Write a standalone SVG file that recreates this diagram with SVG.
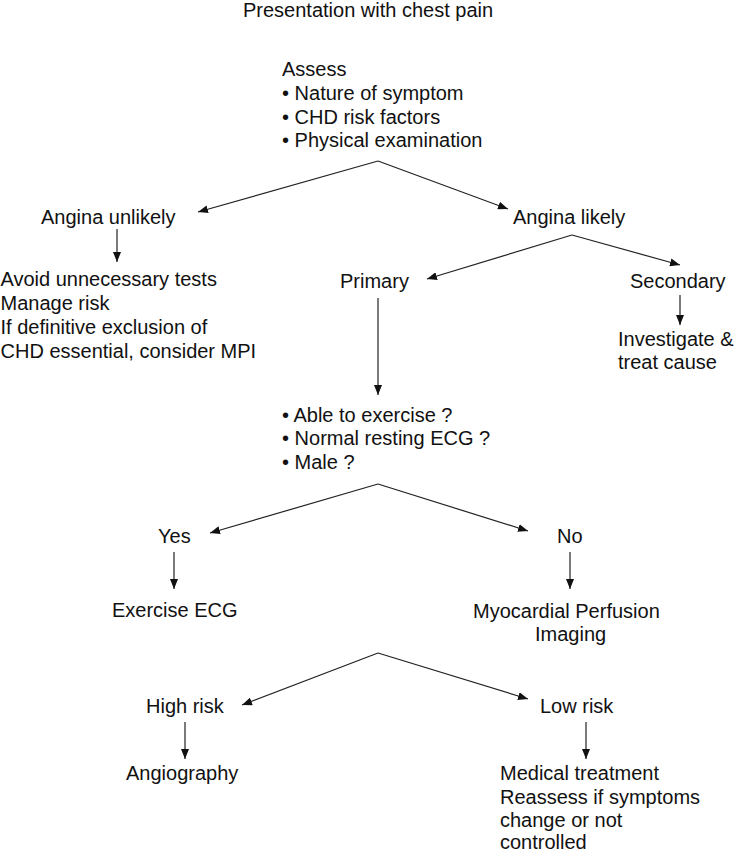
<svg xmlns="http://www.w3.org/2000/svg" width="734" height="853" viewBox="0 0 734 853">
<defs>
<marker id="ah" viewBox="0 0 10 8" refX="10" refY="4" markerWidth="10" markerHeight="8" markerUnits="userSpaceOnUse" orient="auto">
<path d="M0,0 L10,4 L0,8 Z" fill="#111"/>
</marker>
<style>
text{font-family:"Liberation Sans",Arial,Helvetica,sans-serif;font-size:20px;fill:#111}
.c line{stroke:#222;stroke-width:1.2;fill:none}
</style>
</defs>
<rect width="734" height="853" fill="#fff"/>
<g id="title"><text x="243" y="17">Presentation with chest pain</text></g>
<g id="assess">
<text x="282" y="76">Assess</text>
<text x="282" y="100">• Nature of symptom</text>
<text x="282" y="124">• CHD risk factors</text>
<text x="282" y="147">• Physical examination</text>
</g>
<g id="angina-unlikely"><text x="41" y="224">Angina unlikely</text></g>
<g id="angina-likely"><text x="513" y="224">Angina likely</text></g>
<g id="avoid">
<text x="0.5" y="286">Avoid unnecessary tests</text>
<text x="0.5" y="310">Manage risk</text>
<text x="0.5" y="334">If definitive exclusion of</text>
<text x="0.5" y="358">CHD essential, consider MPI</text>
</g>
<g id="primary"><text x="340" y="288">Primary</text></g>
<g id="secondary"><text x="630" y="288">Secondary</text></g>
<g id="investigate">
<text x="618" y="346">Investigate &amp;</text>
<text x="618" y="369">treat cause</text>
</g>
<g id="questions">
<text x="282" y="422">• Able to exercise ?</text>
<text x="282" y="445">• Normal resting ECG ?</text>
<text x="282" y="469">• Male ?</text>
</g>
<g id="yes"><text x="158" y="543">Yes</text></g>
<g id="no"><text x="557" y="543">No</text></g>
<g id="exercise-ecg"><text x="112" y="617">Exercise ECG</text></g>
<g id="mpi">
<text x="473" y="618">Myocardial Perfusion</text>
<text x="535" y="641">Imaging</text>
</g>
<g id="high-risk"><text x="146" y="713">High risk</text></g>
<g id="low-risk"><text x="540" y="713">Low risk</text></g>
<g id="angiography"><text x="126" y="780">Angiography</text></g>
<g id="medical">
<text x="500" y="780">Medical treatment</text>
<text x="500" y="804">Reassess if symptoms</text>
<text x="500" y="827">change or not</text>
<text x="500" y="849">controlled</text>
</g>
<g id="connectors" class="c">
<line x1="378" y1="161" x2="198" y2="212" marker-end="url(#ah)"/>
<line x1="378" y1="161" x2="508" y2="209" marker-end="url(#ah)"/>
<line x1="117" y1="229" x2="117" y2="262" marker-end="url(#ah)"/>
<line x1="572" y1="235" x2="427" y2="279" marker-end="url(#ah)"/>
<line x1="572" y1="235" x2="680" y2="265" marker-end="url(#ah)"/>
<line x1="680" y1="295" x2="680" y2="325" marker-end="url(#ah)"/>
<line x1="378" y1="298" x2="378" y2="395" marker-end="url(#ah)"/>
<line x1="378" y1="484" x2="210" y2="533" marker-end="url(#ah)"/>
<line x1="378" y1="484" x2="528" y2="531" marker-end="url(#ah)"/>
<line x1="174" y1="552" x2="174" y2="589" marker-end="url(#ah)"/>
<line x1="570" y1="552" x2="570" y2="589" marker-end="url(#ah)"/>
<line x1="378" y1="653" x2="242" y2="705" marker-end="url(#ah)"/>
<line x1="378" y1="653" x2="528" y2="699" marker-end="url(#ah)"/>
<line x1="185" y1="722" x2="185" y2="759" marker-end="url(#ah)"/>
<line x1="586" y1="722" x2="586" y2="759" marker-end="url(#ah)"/>
</g>
</svg>
